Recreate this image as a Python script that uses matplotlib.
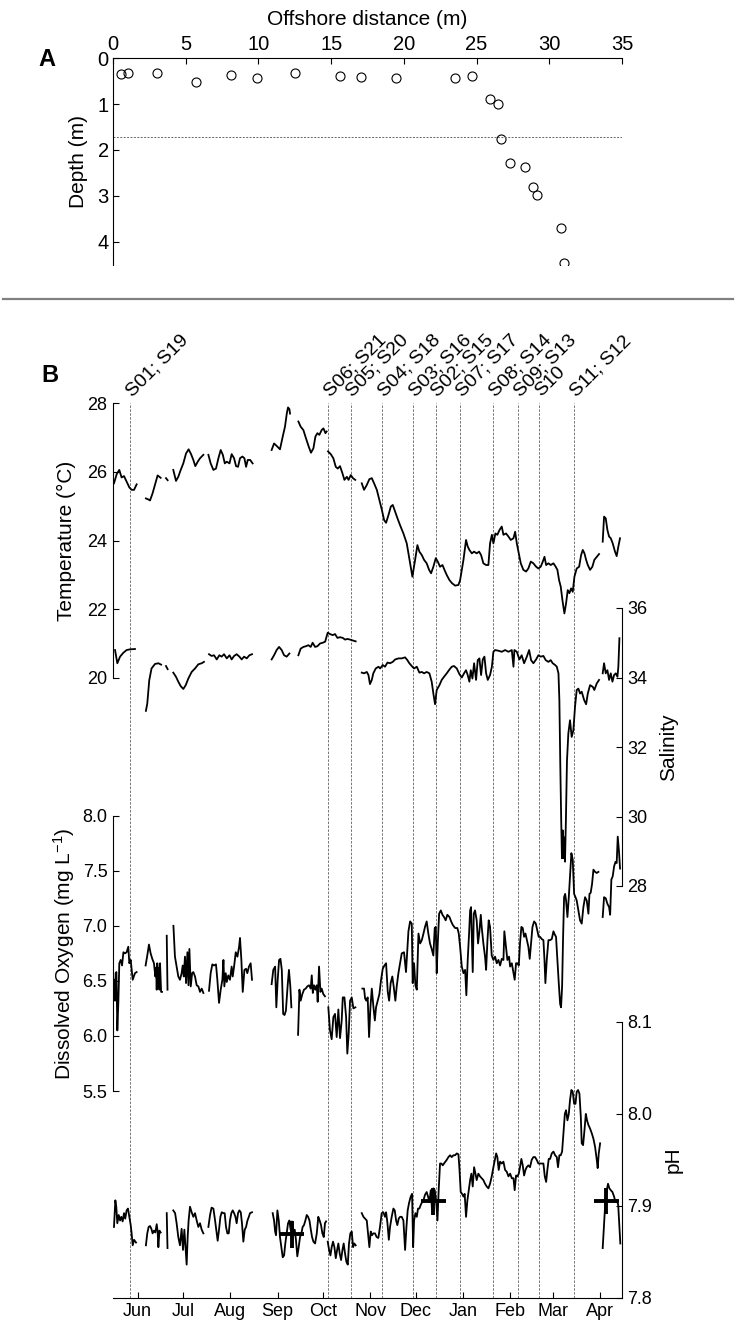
import numpy as np
import matplotlib
matplotlib.use('Agg')
import matplotlib.pyplot as plt
import matplotlib.dates as mdates
from matplotlib.lines import Line2D
from matplotlib.ticker import FormatStrFormatter

plt.rcParams['font.family'] = ['Liberation Sans', 'DejaVu Sans']
plt.rcParams['mathtext.default'] = 'regular'

nan = np.nan

# ---- panel A: logger positions on the transect
dist = [0.58, 1.0, 3.03, 5.70, 8.08, 9.88, 12.49, 15.58, 17.06, 19.48, 23.54,
        24.66, 25.89, 26.46, 26.66, 27.27, 28.33, 28.88, 29.14, 30.78, 31.04]
depth = [0.34, 0.33, 0.33, 0.52, 0.37, 0.44, 0.32, 0.39, 0.41, 0.44, 0.42,
         0.39, 0.88, 1.00, 1.76, 2.29, 2.37, 2.81, 2.99, 3.70, 4.47]
mean_depth = 1.72

# ---- panel B: time series, days counted from 1 June 2013
start = np.datetime64('2013-06-01')

temp_day = [-15.6, -13.8, -12.1, -10.6, -9.0, -7.3, -5.5, -4.0, -2.4, -0.7, nan,
            5.4, 7.0, 8.1, 9.8, 11.6, 13.1, 15.1, nan, 18.6, 19.7, nan,
            23.4, 25.2, 26.7, 28.3, 30.0, 31.8, 33.5, 35.1, 36.6, 37.9, 39.5, 41.0, 43.2, nan,
            46.5, 48.0, 49.8, 51.5, 53.1, 54.6, 56.0, 57.3, 58.6, 60.4, 61.8, 63.4, 64.7,
            66.0, 67.3, 68.9, 70.2, 71.3, 72.4, 74.0, 75.6, nan,
            88.1, 89.7, 91.4, 93.6, 95.4, 96.9, 98.1, 98.9, 99.8, 100.2, nan,
            105.7, 107.2, 109.0, 110.7, 112.5, 114.0, 115.6, 116.9, 118.2, 119.5, 121.0,
            122.2, 123.5, 124.3, nan,
            125.2, 127.0, 128.7, 130.3, 131.6, 133.1, 134.7, 136.0, 137.6, 138.7, 140.2,
            141.6, 143.1, nan,
            147.4, 148.9, 150.7, 152.4, 154.0, 155.5, 157.3, 159.0, 160.6, 162.1, 163.4,
            165.0, 166.5, 167.8, 169.4, 170.9, 172.6, 174.8, 177.0, 179.2, 180.7, 182.5,
            184.0, 185.3, 186.9, 188.4, 190.1, 191.7, 193.0, 194.5, 196.1, 197.4, 198.9,
            200.5, 201.8, 203.3, 205.1, 206.8, 208.8, 211.0, 212.1, 213.2, 214.3, 215.4,
            216.0, 217.1, 218.2, 219.8, 221.3, 223.0, 224.6, 225.9, 227.4, 229.2, 230.7,
            231.8, 233.0, 234.0, 235.3, 236.6, 238.0, 239.5, 240.6, 242.3, 243.9, 245.4,
            247.2, 248.3, 249.4, 250.5, 252.0, 253.7, 255.5, 257.0, 258.6, 260.3, 262.1,
            263.6, 265.1, 266.5, 267.6, 268.7, 270.2, 271.7, 273.5, 275.0, 276.1, 277.2,
            278.3, 279.4, 280.7, 281.8, 282.9, 284.0, 285.1, 286.2, 287.3, 288.8, 290.4,
            291.7, 292.8, 293.9, 295.0, 296.1, 297.6, 299.1, 300.4, 302.0, 303.5, nan,
            305.9, 306.8, 307.9, 309.0, 310.1, 311.2, 312.5, 314.0, 315.1, 316.2, 317.3]
temp_val = [25.67, 25.94, 26.06, 25.84, 25.88, 25.72, 25.55, 25.48, 25.48, 25.64, nan,
            25.23, 25.20, 25.17, 25.38, 25.67, 25.90, 25.83, nan, 25.82, 25.76, nan,
            26.06, 25.74, 25.86, 26.06, 26.25, 26.54, 26.66, 26.52, 26.35, 26.17, 26.30, 26.40, 26.50, nan,
            26.50, 26.25, 26.06, 26.10, 26.40, 26.64, 26.50, 26.25, 26.30, 26.25, 26.52, 26.40, 26.17,
            26.15, 26.40, 26.45, 26.40, 26.15, 26.35, 26.35, 26.25, nan,
            26.64, 26.83, 26.76, 26.66, 27.03, 27.32, 27.71, 27.88, 27.83, 27.70, nan,
            27.47, 27.32, 27.22, 26.98, 26.74, 26.56, 26.69, 27.03, 27.13, 27.08, 27.22,
            27.27, 27.13, 27.18, nan,
            26.60, 26.52, 26.40, 26.15, 26.10, 26.17, 25.96, 25.77, 25.86, 25.77, 25.91,
            25.82, 25.77, nan,
            25.67, 25.48, 25.62, 25.79, 25.82, 25.67, 25.48, 25.18, 24.90, 24.60, 24.52,
            24.75, 24.99, 25.04, 24.84, 24.65, 24.45, 24.21, 23.92, 23.34, 22.95, 23.44,
            23.87, 23.68, 23.58, 23.44, 23.34, 23.15, 23.05, 23.24, 23.49, 23.39, 23.24,
            23.29, 23.15, 23.00, 22.85, 22.76, 22.69, 22.71, 22.85, 23.15, 23.44, 23.83,
            24.02, 23.83, 23.73, 23.63, 23.68, 23.63, 23.68, 23.58, 23.34, 23.29, 23.29,
            23.92, 24.17, 23.92, 24.21, 24.17, 24.31, 24.41, 24.17, 24.21, 24.12, 24.02,
            24.07, 24.26, 23.92, 23.68, 23.34, 23.15, 23.10, 23.19, 23.39, 23.34, 23.24,
            23.19, 23.24, 23.39, 23.53, 23.29, 23.34, 23.29, 23.34, 23.24, 23.15, 22.85,
            22.66, 22.27, 21.88, 22.17, 22.56, 22.47, 22.61, 22.51, 22.95, 23.19, 23.24,
            23.58, 23.73, 23.63, 23.44, 23.29, 23.15, 23.24, 23.44, 23.53, 23.61, nan,
            23.97, 24.70, 24.65, 24.31, 24.12, 24.07, 23.92, 23.68, 23.55, 23.83, 24.07]

sal_day = [-14.9, -13.4, -11.6, -9.5, -7.3, -5.1, -1.8, nan,
           5.4, 6.3, 7.6, 9.1, 11.4, 13.6, 15.4, nan, 18.6, 19.7, nan,
           23.4, 25.2, 26.7, 28.3, 30.0, 31.6, 33.3, 35.5, 37.7, 39.9, 42.1, 43.6, nan,
           46.9, 48.6, 50.2, 52.0, 53.7, 55.2, 56.8, 58.6, 60.4, 61.8, 63.4, 65.1, 66.9,
           68.4, 70.0, 71.7, 73.5, 75.2, nan,
           88.1, 89.7, 91.4, 93.0, 94.7, 96.3, 98.0, 99.8, nan,
           105.7, 107.2, 109.0, 110.7, 112.3, 113.8, 115.1, 116.7, 118.2, 120.0, 121.7,
           123.3, 125.0, 126.5, 128.3, 129.8, 131.4, 133.1, 134.9, 136.4, 138.0, 139.7,
           141.9, 143.4, nan,
           147.4, 148.9, 150.7, 151.8, 152.8, 154.0, 155.0, 156.6, 158.4, 159.5, 161.2,
           162.7, 164.3, 166.0, 167.8, 169.4, 171.6, 173.8, 175.9, 177.4, 178.7, 180.3,
           181.8, 183.6, 185.3, 186.9, 188.4, 190.1, 191.9, 193.4, 194.5, 195.6, 196.7,
           198.5, 200.0, 201.5, 203.3, 205.1, 206.6, 208.1, 209.9, 211.6, 213.2, 214.7,
           216.0, 217.1, 218.2, 219.1, 220.2, 221.3, 222.6, 223.7, 224.8, 225.9, 227.0,
           228.1, 229.2, 230.3, 231.8, 233.0, 234.0, 235.1, 237.3, 239.5, 241.7, 243.9,
           246.1, 247.2, 247.8, 249.4, 251.1, 252.6, 254.2, 256.0, 257.5, 258.8, 260.3,
           262.1, 263.6, 265.1, 266.9, 268.4, 270.2, 271.7, 273.0, 274.6, 275.7, 276.8,
           277.4, 278.0, 278.6, 279.1, 279.6, 280.1, 280.6, 281.1, 281.7, 282.4, 283.3,
           284.4, 285.5, 286.6, 287.7, 288.8, 289.9, 291.0, 292.1, 293.7, 295.0, 296.1,
           297.6, 299.4, 300.4, 302.0, 303.5, nan,
           305.9, 306.8, 307.9, 309.0, 310.1, 311.2, 312.3, 313.4, 314.5, 315.6, 316.2, 316.9]
sal_val = [34.79, 34.41, 34.60, 34.71, 34.79, 34.81, 34.82, nan,
           33.04, 33.25, 33.92, 34.26, 34.39, 34.41, 34.37, nan, 34.33, 34.24, nan,
           34.14, 34.02, 33.88, 33.75, 33.67, 33.78, 33.97, 34.16, 34.26, 34.38, 34.41, 34.45, nan,
           34.67, 34.62, 34.64, 34.52, 34.64, 34.60, 34.67, 34.55, 34.64, 34.52, 34.62, 34.67, 34.60,
           34.52, 34.60, 34.55, 34.64, 34.67, nan,
           34.52, 34.64, 34.79, 34.88, 34.79, 34.64, 34.60, 34.69, nan,
           34.64, 34.83, 34.88, 34.90, 34.93, 34.88, 35.00, 34.88, 34.90, 34.98, 35.00,
           35.03, 35.29, 35.25, 35.22, 35.25, 35.14, 35.16, 35.14, 35.09, 35.11, 35.09,
           35.06, 35.04, nan,
           34.14, 34.12, 34.16, 34.07, 33.81, 33.93, 34.12, 34.26, 34.31, 34.26, 34.36,
           34.31, 34.43, 34.41, 34.45, 34.52, 34.55, 34.55, 34.58, 34.50, 34.41, 34.33,
           34.26, 34.31, 34.14, 34.16, 34.12, 34.16, 34.12, 33.88, 33.54, 33.23, 33.64,
           33.78, 33.93, 34.02, 34.12, 34.23, 34.31, 34.33, 34.26, 34.10, 34.00, 34.12,
           34.21, 34.07, 33.88, 34.21, 33.97, 34.41, 33.93, 34.50, 34.55, 34.07, 34.52,
           34.60, 34.12, 33.93, 34.07, 34.31, 34.74, 34.79, 34.77, 34.74, 34.79, 34.74,
           34.79, 34.31, 34.79, 34.74, 34.52, 34.64, 34.41, 34.60, 34.79, 34.50, 34.41,
           34.52, 34.64, 34.60, 34.62, 34.50, 34.45, 34.50, 34.41, 34.36, 34.31, 34.12,
           33.35, 31.50, 29.90, 28.80, 29.60, 28.80, 29.40, 28.70, 29.90, 31.60, 32.39,
           32.77, 32.29, 32.48, 33.16, 33.64, 33.68, 33.54, 33.59, 33.35, 33.23, 33.54,
           33.78, 33.73, 33.64, 33.83, 33.93, nan,
           34.12, 34.41, 34.12, 34.21, 33.93, 34.12, 33.88, 34.07, 34.12, 34.02, 34.31, 35.13]

do_day = [-15.6, -14.9, -14.5, -14.0, -13.4, -12.7, -12.1, -11.2, -10.3, -9.4, -8.4,
          -7.3, -6.2, -5.5, -4.6, -3.3, -1.8, -0.7, nan,
          5.2, 6.3, 7.4, 8.5, 9.6, 10.7, 11.6, 12.1, 12.5, 12.9, 13.4, 13.8, 14.3, 14.7,
          15.4, 16.0, nan, 19.1, 19.6, nan,
          23.5, 24.5, 25.6, 26.7, 27.8, 28.9, 29.6, 30.3, 31.1, 31.8, 32.7, 33.4, 34.0,
          34.9, 35.8, 36.6, 37.7, 38.8, 39.9, 41.0, 42.1, 43.2, nan,
          46.9, 48.0, 49.1, 50.2, 51.5, 52.4, 53.5, 54.6, 55.7, 56.4, 57.0, 57.9, 58.6,
          59.6, 60.7, 61.8, 62.5, 63.4, 64.5, 65.6, 66.7, 67.3, 68.2, 69.1, 70.2, 71.3,
          72.1, 73.2, 74.3, 75.2, nan,
          88.1, 89.2, 90.4, 91.2, 92.1, 93.0, 93.9, 94.8, 95.7, 96.6, 97.5, 98.6, 99.5,
          100.4, 101.1, nan,
          105.5, 106.4, 107.2, 108.3, 109.4, 110.5, 111.6, 112.7, 113.8, 114.5, 115.2,
          116.0, 116.9, 117.8, 118.4, 119.3, 120.2, 121.0, 122.1, 123.2, nan,
          125.4, 126.5, 127.6, 128.7, 129.8, 130.9, 132.0, 133.1, 134.2, 134.9, 136.0,
          137.1, 137.9, 138.8, 139.7, 140.8, 141.9, 143.2, nan,
          147.8, 148.9, 149.6, 150.4, 151.3, 152.2, 153.1, 154.0, 155.1, 156.0, 156.8,
          157.9, 159.0, 160.1, 161.2, 162.3, 163.4, 164.5, 165.4, 166.4, 167.5, 168.4,
          169.5, 170.4, 171.5, 173.7, 175.2, 176.5, 178.1, 179.2, 180.3, 180.9, 181.8,
          182.7, 183.6, 184.7, 185.8, 186.9, 188.0, 189.0, 190.1, 191.2, 192.3, 193.4,
          194.5, 195.4, 196.1, 196.7, 197.4, 198.3, 199.4, 200.5, 201.5, 202.6, 203.7,
          205.1, 206.2, 207.2, 208.8, 210.3, 211.2, 212.1, 213.2, 214.3, 215.4, 216.2,
          217.1, 218.0, 218.7, 219.3, 220.0, 220.4, 221.1, 221.9, 223.0, 223.9, 224.8,
          225.7, 226.3, 227.4, 228.5, 229.2, 230.1, 230.9, 231.8, 232.9, 234.0, 235.1,
          236.2, 237.3, 238.4, 239.5, 240.6, 241.2, 242.3, 243.2, 244.3, 245.0, 246.1,
          247.2, 248.0, 248.9, 249.8, 250.7, 251.5, 252.4, 253.3, 254.2, 255.1, 255.9,
          257.0, 257.9, 258.8, 259.7, 260.8, 261.9, 263.0, 263.8, 264.7, 265.8, 266.9,
          267.6, 268.2, 269.1, 270.2, 271.3, 272.4, 273.5, 274.4, 275.2, 276.1, 277.0,
          277.9, 278.5, 279.2, 279.8, 280.5, 281.2, 281.8, 282.7, 283.6, 284.4, 285.3,
          286.2, 287.1, 288.0, 288.8, 289.9, 291.0, 292.1, 293.2, 294.3, 295.4, 296.5,
          297.2, 298.0, 298.9, 299.8, 300.9, 302.0, 303.1, nan,
          305.9, 306.8, 307.9, 309.0, 310.1, 310.8, 311.6, 312.5, 313.4, 314.3, 315.1,
          315.8, 316.7, 317.3]
do_val = [6.51, 6.32, 6.57, 6.58, 6.05, 6.32, 6.66, 6.69, 6.64, 6.76, 6.75,
          6.76, 6.81, 6.66, 6.69, 6.51, 6.57, 6.58, nan,
          6.64, 6.73, 6.83, 6.75, 6.70, 6.66, 6.54, 6.62, 6.42, 6.66, 6.45, 6.62, 6.42, 6.66,
          6.40, 6.40, nan, 6.91, 6.42, nan,
          7.00, 6.72, 6.63, 6.54, 6.51, 6.57, 6.64, 6.54, 6.72, 6.48, 6.76, 6.46, 6.79,
          6.45, 6.57, 6.58, 6.54, 6.46, 6.45, 6.40, 6.43, 6.39, nan,
          6.41, 6.57, 6.65, 6.64, 6.65, 6.51, 6.30, 6.42, 6.51, 6.69, 6.45, 6.57, 6.49,
          6.55, 6.51, 6.63, 6.54, 6.63, 6.76, 6.72, 6.81, 6.89, 6.69, 6.40, 6.60, 6.61,
          6.57, 6.63, 6.66, 6.51, nan,
          6.47, 6.60, 6.63, 6.26, 6.51, 6.69, 6.70, 6.60, 6.20, 6.19, 6.23, 6.45, 6.60,
          6.45, 6.26, nan,
          6.01, 6.42, 6.32, 6.38, 6.42, 6.43, 6.45, 6.46, 6.43, 6.55, 6.39,
          6.46, 6.42, 6.46, 6.31, 6.63, 6.40, 6.43, 6.38, 6.36, nan,
          6.26, 6.05, 5.97, 6.17, 6.20, 5.99, 6.24, 5.98, 6.14, 6.35, 6.35,
          6.17, 5.84, 6.02, 6.32, 6.35, 6.25, 6.26, nan,
          6.43, 6.43, 6.34, 6.32, 6.35, 5.99, 6.26, 6.43, 6.26, 6.14, 6.26,
          6.32, 6.38, 6.51, 6.61, 6.64, 6.66, 6.40, 6.32, 6.48, 6.54, 6.45,
          6.32, 6.45, 6.57, 6.75, 6.76, 6.58, 6.95, 7.04, 7.02, 6.48, 6.66,
          6.46, 6.42, 6.93, 6.84, 6.87, 6.93, 6.99, 7.04, 6.93, 6.84, 6.79,
          6.73, 6.98, 6.99, 6.57, 6.84, 7.11, 7.14, 7.10, 7.08, 7.05, 7.10,
          7.08, 7.04, 7.01, 6.98, 6.98, 6.93, 6.81, 6.63, 6.57, 6.60, 6.37,
          6.69, 6.93, 7.14, 7.17, 6.81, 6.58, 7.11, 7.14, 7.05, 6.84, 6.95,
          7.10, 6.99, 6.84, 6.72, 6.60, 6.87, 7.05, 6.99, 6.73, 6.69, 6.72,
          6.66, 6.69, 6.64, 6.70, 6.69, 6.95, 6.81, 6.69, 6.72, 6.63, 6.66,
          6.57, 6.51, 6.66, 6.66, 6.64, 6.84, 6.99, 6.98, 6.90, 6.93, 6.88,
          6.81, 6.70, 6.84, 6.99, 7.04, 7.02, 6.95, 6.90, 6.90, 6.88, 6.87,
          6.69, 6.48, 6.69, 6.87, 6.87, 6.88, 6.95, 6.92, 6.90, 6.69, 6.48,
          6.29, 6.26, 6.45, 6.87, 7.26, 7.29, 7.23, 7.08, 7.26, 7.45, 7.66,
          7.60, 7.29, 7.26, 7.23, 7.14, 7.05, 7.02, 7.17, 7.26, 7.23, 7.11,
          7.29, 7.30, 7.38, 7.51, 7.49, 7.48, 7.49, nan,
          7.08, 7.26, 7.25, 7.20, 7.17, 7.10, 7.42, 7.45, 7.54, 7.58, 7.57,
          7.81, 7.66, 7.52]

ph_day = [-15.6, -14.7, -14.1, -13.4, -12.5, -11.6, -10.8, -9.9, -9.0, -8.2, -7.3,
          -6.4, -5.5, -4.6, -4.0, -3.3, -2.4, -1.1, nan,
          5.4, 6.3, 7.2, 8.1, 9.0, 9.8, 10.7, 11.6, 12.5, 13.1, 13.6, 14.3, 15.1, nan,
          19.1, 19.6, nan,
          23.4, 24.6, 25.6, 26.7, 27.8, 28.9, 29.8, 30.7, 31.4, 32.2, 32.9, 33.5, 34.4,
          35.5, 36.6, 37.7, 38.8, 39.9, 41.0, 42.1, 43.2, nan,
          46.5, 47.6, 48.6, 49.8, 50.9, 52.0, 52.6, 53.5, 54.4, 55.3, 56.3, 57.2, 58.1,
          59.0, 59.9, 60.7, 61.6, 62.5, 63.4, 64.3, 65.1, 66.0, 66.9, 67.8, 68.6, 69.5,
          70.4, 71.3, 72.2, 73.1, 73.9, 75.2, nan,
          88.8, 89.7, 90.4, 91.0, 91.9, 92.8, 93.6, 94.5, 95.4, 96.3, 97.1, 98.0, 98.9,
          99.8, 100.6, 101.5, 102.4, 103.3, 104.1, 105.0, 105.9, 106.8, 107.7, 108.5,
          109.4, 110.3, 111.2, 112.1, 113.0, 113.8, 114.7, 115.6, 116.7, 117.8, 118.8,
          119.7, 120.6, 121.5, 122.4, 123.2, 123.9, nan,
          125.0, 125.9, 126.8, 127.6, 128.5, 129.4, 130.3, 131.2, 132.0, 132.9, 133.8,
          134.7, 135.5, 136.4, 137.3, 138.2, 139.0, 139.9, 140.8, 141.7, 142.5, 143.4, nan,
          147.4, 148.5, 149.6, 150.7, 151.5, 152.4, 153.3, 154.2, 155.0, 156.1, 157.2,
          158.3, 159.4, 160.5, 161.6, 162.7, 163.4, 164.3, 165.2, 166.0, 167.1, 168.2,
          169.1, 170.0, 170.8, 171.7, 172.6, 173.7, 174.8, 175.9, 176.8, 177.6, 178.5,
          179.6, 180.5, 181.2, 181.8, 182.7, 183.6, 184.4, 185.3, 186.2, 187.1, 188.0,
          189.0, 190.1, 191.0, 191.9, 192.8, 193.7, 194.5, 195.4, 196.3, 197.2, 198.0,
          198.9, 199.8, 200.7, 201.5, 202.4, 203.3, 204.4, 205.5, 206.6, 207.7, 208.8,
          209.9, 211.0, 211.6, 212.5, 213.4, 214.3, 215.1, 216.0, 216.9, 217.8, 218.7,
          219.5, 220.4, 221.3, 222.2, 223.0, 224.1, 225.2, 226.3, 227.4, 228.5, 229.6,
          230.7, 231.8, 232.9, 234.0, 235.1, 235.8, 236.6, 237.5, 238.4, 239.5, 240.6,
          241.7, 242.8, 243.9, 245.0, 246.1, 247.2, 248.0, 248.9, 249.8, 250.7, 251.5,
          252.4, 253.3, 254.2, 255.1, 255.9, 257.0, 258.1, 259.2, 260.3, 261.4, 262.5,
          263.6, 264.7, 265.8, 266.9, 267.8, 268.7, 269.5, 270.4, 271.3, 272.4, 273.5,
          274.6, 275.7, 276.5, 277.4, 278.3, 279.2, 280.1, 281.0, 281.8, 282.7, 283.6,
          284.4, 285.3, 286.2, 287.1, 288.0, 288.8, 289.7, 290.6, 291.5, 292.1, 293.0,
          293.9, 294.8, 295.6, 296.5, 297.6, 298.7, 299.8, 300.9, 302.0, 302.6, 303.3,
          304.2, nan,
          305.9, 306.8, 307.7, 308.6, 309.4, 310.3, 311.2, 312.3, 313.4, 314.3, 315.2,
          316.1, 316.8, 317.5]
ph_val = [7.877, 7.906, 7.899, 7.881, 7.890, 7.884, 7.888, 7.883, 7.892, 7.886, 7.895,
          7.897, 7.888, 7.879, 7.870, 7.857, 7.863, 7.860, nan,
          7.857, 7.870, 7.877, 7.878, 7.875, 7.870, 7.873, 7.871, 7.880, 7.872, 7.855, 7.873, 7.871, nan,
          7.892, 7.854, nan,
          7.895, 7.892, 7.881, 7.866, 7.857, 7.875, 7.852, 7.874, 7.856, 7.836, 7.867, 7.884, 7.899,
          7.893, 7.888, 7.892, 7.884, 7.877, 7.881, 7.874, 7.870, nan,
          7.877, 7.890, 7.898, 7.897, 7.884, 7.870, 7.862, 7.874, 7.888, 7.893, 7.892, 7.892, 7.877,
          7.870, 7.870, 7.884, 7.892, 7.895, 7.892, 7.888, 7.881, 7.892, 7.895, 7.893, 7.881, 7.861,
          7.874, 7.877, 7.884, 7.888, 7.892, 7.893, nan,
          7.892, 7.884, 7.872, 7.868, 7.895, 7.884, 7.866, 7.855, 7.844, 7.846, 7.859, 7.870, 7.881,
          7.884, 7.874, 7.883, 7.870, 7.874, 7.863, 7.845, 7.855, 7.866, 7.870, 7.877,
          7.879, 7.884, 7.890, 7.888, 7.884, 7.875, 7.866, 7.861, 7.859, 7.870, 7.888,
          7.884, 7.879, 7.870, 7.866, 7.881, 7.883, nan,
          7.861, 7.852, 7.846, 7.855, 7.861, 7.855, 7.843, 7.852, 7.859, 7.848, 7.841,
          7.852, 7.859, 7.848, 7.839, 7.836, 7.859, 7.870, 7.872, 7.855, 7.859, 7.857, nan,
          7.892, 7.888, 7.886, 7.884, 7.870, 7.855, 7.872, 7.868, 7.870, 7.870, 7.866,
          7.865, 7.877, 7.892, 7.893, 7.888, 7.893, 7.881, 7.863, 7.877, 7.888, 7.897,
          7.895, 7.884, 7.879, 7.886, 7.888, 7.888, 7.884, 7.852, 7.877, 7.895, 7.903,
          7.910, 7.913, 7.855, 7.884, 7.892, 7.888, 7.897, 7.897, 7.901, 7.904, 7.906,
          7.912, 7.915, 7.910, 7.904, 7.917, 7.893, 7.919, 7.917, 7.906, 7.884, 7.917,
          7.946, 7.946, 7.944, 7.946, 7.948, 7.950, 7.953, 7.955, 7.953, 7.955, 7.955,
          7.957, 7.956, 7.942, 7.915, 7.913, 7.910, 7.913, 7.888, 7.906, 7.917, 7.928,
          7.935, 7.921, 7.942, 7.935, 7.928, 7.935, 7.932, 7.930, 7.928, 7.924, 7.921,
          7.919, 7.924, 7.932, 7.942, 7.951, 7.957, 7.953, 7.939, 7.948, 7.946, 7.948,
          7.939, 7.937, 7.932, 7.935, 7.930, 7.930, 7.917, 7.933, 7.932, 7.935, 7.942,
          7.951, 7.944, 7.933, 7.939, 7.942, 7.944, 7.942, 7.950, 7.953, 7.953, 7.950,
          7.946, 7.946, 7.946, 7.946, 7.932, 7.926, 7.939, 7.951, 7.951, 7.957, 7.959,
          7.955, 7.953, 7.942, 7.955, 7.955, 7.959, 7.979, 8.000, 8.004, 7.993, 8.000,
          8.015, 8.026, 8.024, 8.011, 8.011, 8.024, 8.026, 8.022, 7.997, 7.968, 7.966,
          7.982, 8.000, 7.993, 7.988, 7.984, 7.979, 7.973, 7.964, 7.950, 7.941, 7.957,
          7.968, nan,
          7.854, 7.881, 7.906, 7.917, 7.924, 7.919, 7.917, 7.915, 7.910, 7.904, 7.906,
          7.901, 7.881, 7.859]

# discrete pH samples: mean +/- sd over a sampling window
ph_sample_day = [101.5, 194.4, 308.2]
ph_sample_val = [7.869, 7.905, 7.905]
ph_sample_halfwin = [8.2, 8.2, 8.2]
ph_sample_sd = [0.015, 0.0145, 0.014]

stations = ['S01; S19', 'S06; S21', 'S05; S20', 'S04; S18', 'S03; S16', 'S02; S15',
            'S07; S17', 'S08; S14', 'S09; S13', 'S10', 'S11; S12']
station_dates = ['2013-05-27', '2013-10-04', '2013-10-19', '2013-11-09', '2013-11-29',
                 '2013-12-14', '2013-12-30', '2014-01-21', '2014-02-06', '2014-02-20',
                 '2014-03-15']

W, H = 736, 1329
fig = plt.figure(figsize=(W / 100, H / 100), dpi=100)


def rect(top_px, bot_px, left_px=113, right_px=622):
    return [left_px / W, 1 - bot_px / H, (right_px - left_px) / W, (bot_px - top_px) / H]


# ---------------- panel A
axA = fig.add_axes(rect(58.3, 264.6))
axA.plot(dist, depth, 'o', mfc='none', mec='k', ms=6.5, mew=0.8)
axA.axhline(mean_depth, color='0.4', lw=0.7, ls=(0, (2, 1.5)))
axA.set_xlim(0, 35)
axA.set_ylim(4.5, 0)
axA.xaxis.tick_top()
axA.xaxis.set_label_position('top')
axA.set_yticks([0, 1, 2, 3, 4])
for s in ['right', 'bottom']:
    axA.spines[s].set_visible(False)
axA.tick_params(direction='in', length=4, labelsize=14.5, pad=3)
axA.set_xlabel('Offshore distance (m)', fontsize=15, labelpad=7)
axA.set_ylabel('Depth (m)', fontsize=15, labelpad=7)
fig.text(47 / W, 1 - 60 / H, 'A', fontsize=17, fontweight='bold', ha='center', va='center')

fig.add_artist(Line2D([3 / W, 733 / W], [1 - 299 / H] * 2, color='0.5', lw=1.6))

# ---------------- panel B
base = mdates.date2num(start)
xlim = (base - 16.25, base + 318.6)
LW = 1.3

ax_ev = fig.add_axes(rect(403.3, 1297.7))
ax_ev.set_xlim(xlim)
ax_ev.set_ylim(0, 1)
ax_ev.axis('off')
for name, d in zip(stations, station_dates):
    xd = mdates.date2num(np.datetime64(d))
    ax_ev.axvline(xd, color='0.45', lw=0.7, ls=(0, (2.5, 1.5)))
    ax_ev.annotate(name, xy=(xd, 1), xycoords=('data', 'axes fraction'),
                   xytext=(1.5, 4.5), textcoords='offset points', rotation=45,
                   rotation_mode='anchor', ha='left', va='baseline', fontsize=14)
fig.text(50 / W, 1 - 376 / H, 'B', fontsize=17, fontweight='bold', ha='center', va='center')


def series_axes(top_px, bot_px, side):
    ax = fig.add_axes(rect(top_px, bot_px))
    ax.patch.set_visible(False)
    ax.set_xlim(xlim)
    for s in ['top', 'bottom', 'left', 'right']:
        ax.spines[s].set_visible(s == side)
    if side == 'right':
        ax.yaxis.tick_right()
        ax.yaxis.set_label_position('right')
    ax.tick_params(axis='y', direction='in', length=4, labelsize=13, pad=4)
    ax.tick_params(axis='x', bottom=False, labelbottom=False)
    return ax


ax_t = series_axes(403.3, 678, 'left')
ax_t.plot(base + np.array(temp_day), temp_val, color='k', lw=LW)
ax_t.set_ylim(20, 28)
ax_t.set_yticks([20, 22, 24, 26, 28])
ax_t.set_ylabel('Temperature (°C)', fontsize=15, labelpad=8)

ax_s = series_axes(608, 886, 'right')
ax_s.plot(base + np.array(sal_day), sal_val, color='k', lw=LW)
ax_s.set_ylim(28, 36)
ax_s.set_yticks([28, 30, 32, 34, 36])
ax_s.set_ylabel('Salinity', fontsize=15, labelpad=8)

ax_o = series_axes(815.7, 1091, 'left')
ax_o.plot(base + np.array(do_day), do_val, color='k', lw=LW)
ax_o.set_ylim(5.5, 8.0)
ax_o.set_yticks([5.5, 6.0, 6.5, 7.0, 7.5, 8.0])
ax_o.yaxis.set_major_formatter(FormatStrFormatter('%.1f'))
ax_o.set_ylabel('Dissolved Oxygen (mg L$^{-1}$)', fontsize=15)

ax_p = series_axes(1022, 1297.7, 'right')
ax_p.spines['bottom'].set_visible(True)
ax_p.plot(base + np.array(ph_day), ph_val, color='k', lw=LW)
ax_p.errorbar(base + np.array(ph_sample_day), ph_sample_val, xerr=ph_sample_halfwin,
              yerr=ph_sample_sd, fmt='none', ecolor='k', elinewidth=2.8, capsize=0)
ax_p.set_ylim(7.8, 8.1)
ax_p.set_yticks([7.8, 7.9, 8.0, 8.1])
ax_p.yaxis.set_major_formatter(FormatStrFormatter('%.1f'))
ax_p.set_ylabel('pH', fontsize=15, labelpad=8)
ax_p.xaxis.set_major_locator(mdates.MonthLocator())
ax_p.xaxis.set_major_formatter(mdates.DateFormatter('%b'))
ax_p.tick_params(axis='x', bottom=True, labelbottom=True, direction='in', length=4,
                 labelsize=13, pad=4)

fig.savefig('out.png', dpi=100)
